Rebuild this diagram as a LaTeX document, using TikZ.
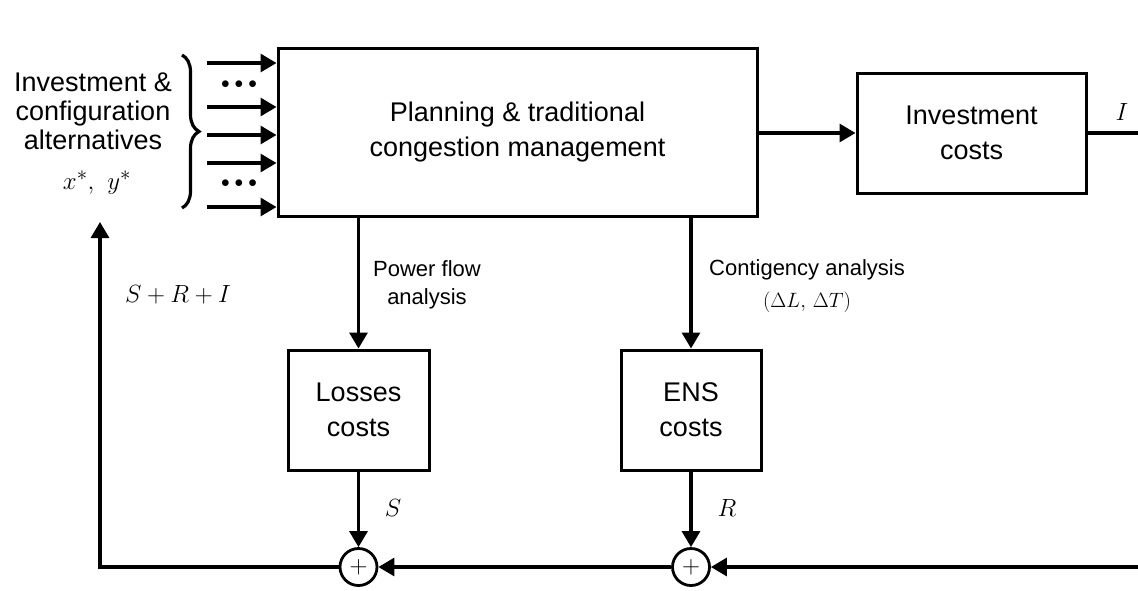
\documentclass[tikz,border=0pt]{standalone}
\usepackage[no-math]{fontspec}
\setmainfont{Liberation Sans}
\usetikzlibrary{arrows.meta,decorations.pathreplacing}
\tikzset{
  blk/.style={draw,line width=3pt,rectangle,inner sep=0pt,align=center,font=\fontsize{27}{35}\selectfont},
  sumnode/.style={draw,line width=2.8pt,circle,minimum size=37pt,inner sep=0pt,font=\fontsize{23}{23}\selectfont},
  arr/.style={line width=3.2pt,-{Triangle[length=16pt,width=18pt]}},
  ln/.style={line width=3.2pt},
  lbl/.style={align=center,inner sep=0pt,font=\fontsize{22}{28}\selectfont},
  mlbl/.style={inner sep=0pt,font=\fontsize{29}{29}\selectfont},
  dotsn/.style={inner sep=0pt,font=\fontsize{16}{16}\selectfont}
}
\begin{document}
\begin{tikzpicture}[x=1pt,y=-1pt]
\useasboundingbox (0,0) rectangle (1138,590);
% blocks
\node[blk,minimum width=479pt,minimum height=168pt] (main) at (517.5,132) {Planning \& traditional\\congestion management};
\node[blk,minimum width=229pt,minimum height=120pt] (inv) at (971.5,133) {Investment\\costs};
\node[blk,minimum width=141pt,minimum height=120pt] (loss) at (358.5,410) {Losses\\costs};
\node[blk,minimum width=140pt,minimum height=120pt] (ens) at (691,410) {ENS\\costs};
\node[sumnode] (s1) at (358.5,567) {$+$};
\node[sumnode] (s2) at (691,567) {$+$};
% left text
\node[align=center,inner sep=0pt,font=\fontsize{27}{29}\selectfont] (alt) at (93,111) {Investment \&\\configuration\\alternatives};
\node[mlbl,font=\fontsize{32}{32}\selectfont] (xy) at (97,183) {$x^{*},\ y^{*}$};
\draw[ln,decorate,decoration={brace,amplitude=17pt}] (182,55) -- (182,208);
% inputs
\coordinate (in1) at (207,63);
\coordinate (in2) at (207,107);
\coordinate (in3) at (207,135);
\coordinate (in4) at (207,163);
\coordinate (in5) at (207,207);
\foreach \c in {in1,in2,in3,in4,in5}{\draw[arr] (\c) -- (\c -| main.west);}
\node[dotsn] (d1) at (239,85) {$\bullet$\hspace{5pt}$\bullet$\hspace{5pt}$\bullet$};
\node[dotsn] (d2) at (239,184) {$\bullet$\hspace{5pt}$\bullet$\hspace{5pt}$\bullet$};
% main flows
\draw[arr] (main.east |- inv.west) -- (inv.west);
\coordinate (iout) at (1138,133);
\draw[ln] (inv.east) -- (iout);
\node[mlbl] (Il) at (1122,112) {$I$};
\draw[arr] (main.south -| loss.north) -- (loss.north);
\draw[arr] (main.south -| ens.north) -- (ens.north);
\node[lbl] (pf) at (427,285) {Power flow\\analysis};
\node[lbl,font=\fontsize{22}{32}\selectfont] (ca) at (807,286) {Contigency analysis\\$(\Delta L,\,\Delta T)$};
\draw[arr] (loss.south) -- (s1.north);
\draw[arr] (ens.south) -- (s2.north);
\node[mlbl] (Sl) at (393,508) {$S$};
\node[mlbl] (Rl) at (727,508) {$R$};
% feedback
\coordinate (rin) at (1138,567);
\draw[arr] (rin) -- (s2.east);
\draw[arr] (s2.west) -- (s1.east);
\coordinate (lc) at (100,567);
\coordinate (ltop) at (100,222);
\draw[arr] (s1.west) -- (lc) -- (ltop);
\node[mlbl,font=\fontsize{25}{25}\selectfont] (sri) at (178,295) {$S+R+I$};
\end{tikzpicture}
\end{document}
